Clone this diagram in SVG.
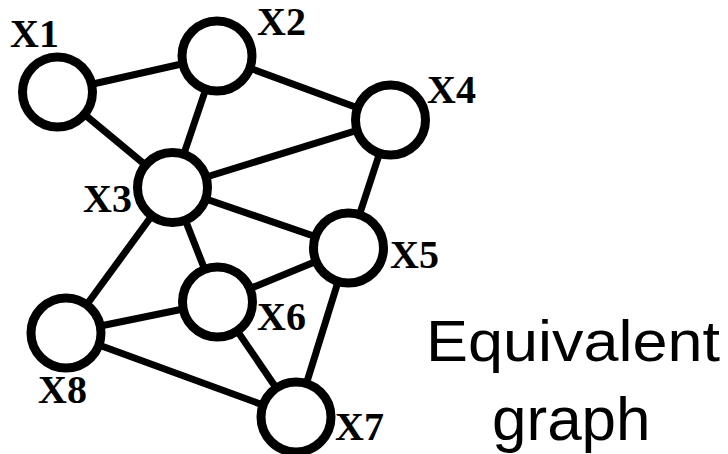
<svg xmlns="http://www.w3.org/2000/svg" width="728" height="454" viewBox="0 0 728 454">
<style>
.edge{stroke:#000;stroke-width:7;fill:none}
.node{fill:#fff;stroke:#000;stroke-width:9}
.lbl{font-family:"Liberation Serif","Times New Roman",serif;font-weight:bold;font-size:40px;fill:#000}
.cap{font-family:"Liberation Sans",Arial,sans-serif;fill:#000}
</style>
<rect width="728" height="454" fill="#fff"/>
<g id="connectors">
<line class="edge" x1="57.5" y1="92" x2="217" y2="56"/>
<line class="edge" x1="57.5" y1="92" x2="172.5" y2="187.5"/>
<line class="edge" x1="217" y1="56" x2="172.5" y2="187.5"/>
<line class="edge" x1="217" y1="56" x2="390.5" y2="120"/>
<line class="edge" x1="172.5" y1="187.5" x2="390.5" y2="120"/>
<line class="edge" x1="172.5" y1="187.5" x2="348.5" y2="248"/>
<line class="edge" x1="390.5" y1="120" x2="348.5" y2="248"/>
<line class="edge" x1="172.5" y1="187.5" x2="217.5" y2="302"/>
<line class="edge" x1="172.5" y1="187.5" x2="66" y2="333"/>
<line class="edge" x1="348.5" y1="248" x2="217.5" y2="302"/>
<line class="edge" x1="348.5" y1="248" x2="296" y2="417"/>
<line class="edge" x1="217.5" y1="302" x2="66" y2="333"/>
<line class="edge" x1="217.5" y1="302" x2="296" y2="417"/>
<line class="edge" x1="66" y1="333" x2="296" y2="417"/>
</g>
<g id="X1"><circle class="node" cx="57.5" cy="92" r="35"/><text class="lbl" x="10" y="47">X1</text></g>
<g id="X2"><circle class="node" cx="217" cy="56" r="35"/><text class="lbl" x="257" y="35">X2</text></g>
<g id="X4"><circle class="node" cx="390.5" cy="120" r="35"/><text class="lbl" x="427" y="103">X4</text></g>
<g id="X3"><circle class="node" cx="172.5" cy="187.5" r="35"/><text class="lbl" x="83" y="212">X3</text></g>
<g id="X5"><circle class="node" cx="348.5" cy="248" r="35"/><text class="lbl" x="390" y="268">X5</text></g>
<g id="X6"><circle class="node" cx="217.5" cy="302" r="35"/><text class="lbl" x="257" y="330">X6</text></g>
<g id="X8"><circle class="node" cx="66" cy="333" r="35"/><text class="lbl" x="38" y="403">X8</text></g>
<g id="X7"><circle class="node" cx="296" cy="417" r="35"/><text class="lbl" x="335" y="440">X7</text></g>
<g id="caption">
<text class="cap" x="426" y="361" font-size="58" textLength="294" lengthAdjust="spacingAndGlyphs">Equivalent</text>
<text class="cap" x="492" y="440" font-size="62">graph</text>
</g>
</svg>
